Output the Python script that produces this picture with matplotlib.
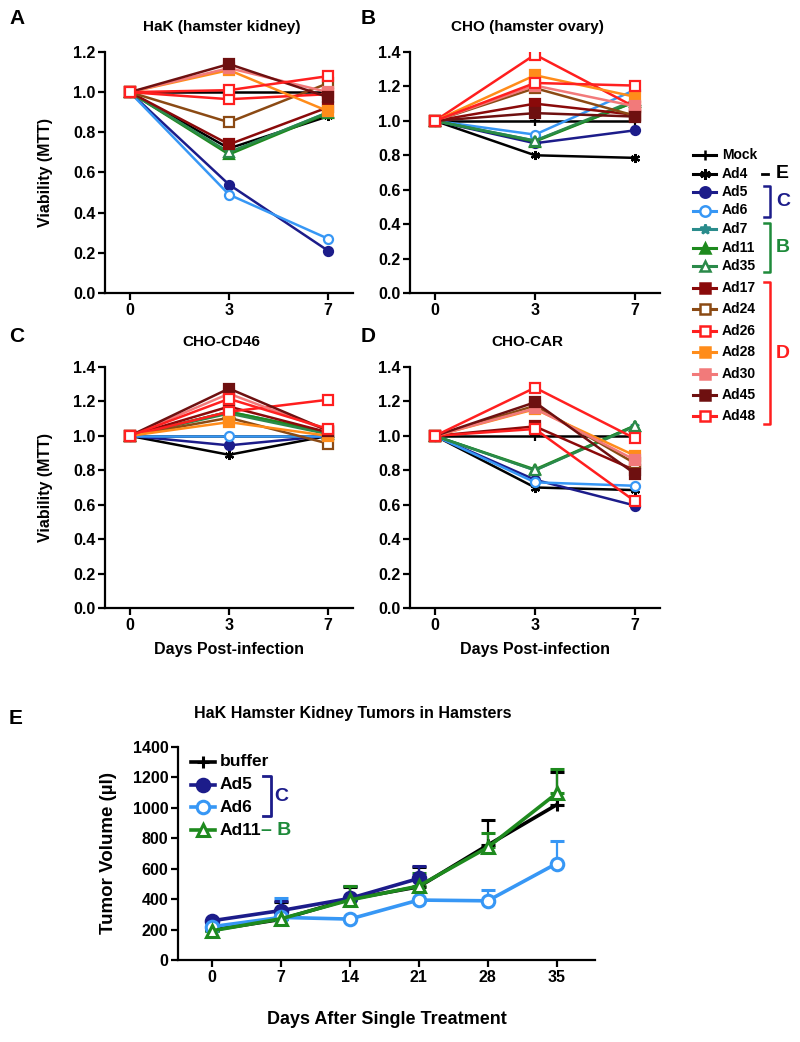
import numpy as np
import matplotlib
matplotlib.use("Agg")
import matplotlib.pyplot as plt

plt.rcParams["font.family"] = ["Liberation Sans", "DejaVu Sans"]
plt.rcParams["font.weight"] = "bold"
plt.rcParams["axes.labelweight"] = "bold"
plt.rcParams["axes.titleweight"] = "bold"

# ---- data: viability panels (days 0, 3, 7) ----
days = ["0", "3", "7"]
viruses = ["Mock", "Ad4", "Ad5", "Ad6", "Ad7", "Ad11", "Ad35",
           "Ad17", "Ad24", "Ad26", "Ad28", "Ad30", "Ad45", "Ad48"]

hak_vals = [
    [1.0, 1.00, 1.00],   # Mock
    [1.0, 0.72, 0.88],   # Ad4
    [1.0, 0.54, 0.21],   # Ad5
    [1.0, 0.49, 0.27],   # Ad6
    [1.0, 0.70, 0.90],   # Ad7
    [1.0, 0.69, 0.895],  # Ad11
    [1.0, 0.70, 0.90],   # Ad35
    [1.0, 0.74, 0.925],  # Ad17
    [1.0, 0.85, 1.045],  # Ad24
    [1.0, 0.965, 0.99],  # Ad26
    [1.0, 1.11, 0.905],  # Ad28
    [1.0, 1.12, 1.00],   # Ad30
    [1.0, 1.14, 0.975],  # Ad45
    [1.0, 1.01, 1.08],   # Ad48
]
cho_vals = [
    [1.0, 1.00, 1.00],
    [1.0, 0.80, 0.785],
    [1.0, 0.87, 0.945],
    [1.0, 0.92, 1.18],
    [1.0, 0.885, 1.11],
    [1.0, 0.88, 1.11],
    [1.0, 0.885, 1.12],
    [1.0, 1.10, 1.035],
    [1.0, 1.19, 1.03],
    [1.0, 1.385, 1.08],
    [1.0, 1.265, 1.14],
    [1.0, 1.205, 1.085],
    [1.0, 1.045, 1.025],
    [1.0, 1.22, 1.205],
]
cd46_vals = [
    [1.0, 1.00, 1.00],
    [1.0, 0.89, 1.00],
    [1.0, 0.945, 1.00],
    [1.0, 1.00, 1.00],
    [1.0, 1.14, 1.02],
    [1.0, 1.14, 1.02],
    [1.0, 1.13, 1.01],
    [1.0, 1.17, 1.02],
    [1.0, 1.105, 0.955],
    [1.0, 1.14, 1.21],
    [1.0, 1.08, 1.00],
    [1.0, 1.245, 1.03],
    [1.0, 1.275, 1.03],
    [1.0, 1.215, 1.04],
]
car_vals = [
    [1.0, 1.00, 1.00],
    [1.0, 0.70, 0.685],
    [1.0, 0.745, 0.595],
    [1.0, 0.73, 0.71],
    [1.0, 0.80, 1.06],
    [1.0, 0.805, 1.06],
    [1.0, 0.80, 1.055],
    [1.0, 1.055, 0.80],
    [1.0, 1.175, 0.84],
    [1.0, 1.04, 0.62],
    [1.0, 1.155, 0.885],
    [1.0, 1.16, 0.86],
    [1.0, 1.195, 0.78],
    [1.0, 1.28, 0.985],
]

# ---- data: tumour volumes ----
tumor_days = [0, 7, 14, 21, 28, 35]
buffer_mean = [197, 267, 400, 481, 755, 1020]
buffer_err = [0, 115, 80, 130, 165, 215]
ad5_days = [0, 7, 14, 21]
ad5_mean = [258, 325, 405, 536]
ad5_err = [0, 60, 80, 85]
ad6_mean = [219, 280, 269, 394, 389, 634]
ad6_err = [0, 130, 0, 0, 70, 150]
ad11_mean = [192, 271, 394, 486, 740, 1095]
ad11_err = [0, 0, 95, 85, 95, 160]

# ---- styles ----
colors = ["black", "black", "#1c1c8a", "#3797f5", "#2a8c8c", "#1e8a1e", "#2b8a4a",
          "#8a0a0a", "#8b4a14", "#ff1e1e", "#ff8c1a", "#f27a7a", "#6e1010", "#ff2020"]
markers = ["+", (6, 2, 0), "o", "o", "*", "^", "^",
           "s", "s", "s", "s", "s", "s", "s"]
faces = ["black", "black", "#1c1c8a", "white", "#2a8c8c", "#1e8a1e", "white",
         "#8a0a0a", "white", "white", "#ff8c1a", "#f27a7a", "#6e1010", "white"]

W, H = 800, 1042
fig = plt.figure(figsize=(8, 10.42), dpi=100)


def box(left, top, right, bottom):
    return [left / W, 1 - bottom / H, (right - left) / W, (bottom - top) / H]


def style_axes(ax, ymax, tick_size):
    for s in ["top", "right"]:
        ax.spines[s].set_visible(False)
    for s in ["left", "bottom"]:
        ax.spines[s].set_linewidth(1.6)
    ax.spines["left"].set_bounds(0, ymax)
    ax.tick_params(width=1.6, length=5, pad=2, labelsize=tick_size)


def viability_panel(rect, vals, ymax, title, letter, letter_xy, ylabel, xlabel):
    ax = fig.add_axes(box(*rect))
    x = np.arange(len(days))
    for i, v in enumerate(viruses):
        ax.plot(x, vals[i], color=colors[i], marker=markers[i], mfc=faces[i],
                mec=colors[i], ms=6.5, mew=1.6, lw=1.8)
    ax.set_xlim(-0.25, 2.25)
    ax.set_ylim(0, ymax)
    ax.set_xticks(x, days)
    yt = np.round(np.arange(0, ymax + 0.01, 0.2), 1)
    ax.set_yticks(yt, [f"{t:.1f}" for t in yt])
    style_axes(ax, ymax, 11.5)
    ax.set_title(title, fontsize=11, pad=15, x=0.47)
    if ylabel:
        ax.set_ylabel("Viability (MTT)", fontsize=11.5, labelpad=14)
    if xlabel:
        ax.set_xlabel("Days Post-infection", fontsize=11.5, labelpad=7)
    fig.text(letter_xy[0] / W, 1 - letter_xy[1] / H, letter, fontsize=15,
             ha="left", va="center")
    return ax


viability_panel((105, 52, 353, 293), hak_vals, 1.2, "HaK (hamster kidney)", "A", (9, 18), True, False)
viability_panel((410, 52, 660, 293), cho_vals, 1.4, "CHO (hamster ovary)", "B", (361, 18), False, False)
viability_panel((105, 367, 353, 608), cd46_vals, 1.4, "CHO-CD46", "C", (9, 337), True, True)
viability_panel((410, 367, 660, 608), car_vals, 1.4, "CHO-CAR", "D", (361, 337), False, True)

# ---- shared legend for A-D ----
lg = fig.add_axes(box(680, 140, 800, 440))
lg.set_xlim(680, 800)
lg.set_ylim(440, 140)
lg.axis("off")
ys = np.concatenate([155 + 18.5 * np.arange(7), 288 + 21.4 * np.arange(7)])
for i, v in enumerate(viruses):
    lg.plot([693, 716], [ys[i], ys[i]], color=colors[i], lw=2.2)
    lg.plot([704.5], [ys[i]], color=colors[i], marker=markers[i], mfc=faces[i],
            mec=colors[i], ms=7.5, mew=1.8)
    lg.text(722, ys[i], v, fontsize=10, va="center", ha="left")


def bracket(ax, y0, y1, x, color, label, lx):
    ax.plot([x - 6, x, x, x - 6], [y0, y0, y1, y1], color=color, lw=1.8)
    ax.text(lx, (y0 + y1) / 2, label, color=color, fontsize=14, va="center", ha="left")


lg.plot([762, 768], [ys[1], ys[1]], color="black", lw=2)
lg.text(776, ys[1], "E", fontsize=14, va="center", ha="left")
bracket(lg, ys[2] - 6, ys[3] + 6, 770, "#1c1c8a", "C", 776)
bracket(lg, ys[4] - 6, ys[6] + 6, 770, "#1e8a3a", "B", 776)
bracket(lg, ys[7] - 6, ys[13] + 8, 770, "#ff1e1e", "D", 776)

# ---- panel E ----
ax = fig.add_axes(box(178, 747, 595, 960))
series = [
    (tumor_days, buffer_mean, buffer_err, "black", "+", "black"),
    (ad5_days, ad5_mean, ad5_err, "#1c1c8a", "o", "#1c1c8a"),
    (tumor_days, ad6_mean, ad6_err, "#3797f5", "o", "white"),
    (tumor_days, ad11_mean, ad11_err, "#1e8a1e", "^", "white"),
]
for d, m, e, c, mk, fc in series:
    ax.errorbar(d, m, yerr=[np.zeros(len(e)), e], color=c, marker=mk, mfc=fc, mec=c,
                ms=9, mew=2.2, lw=2.6, capsize=5, elinewidth=1.6, capthick=1.6)
ax.set_xlim(-3.45, 38.9)
ax.set_ylim(0, 1400)
ax.set_xticks(tumor_days)
ax.set_yticks(np.arange(0, 1401, 200))
style_axes(ax, 1400, 11.5)
ax.set_title("HaK Hamster Kidney Tumors in Hamsters", fontsize=11.5, pad=21, x=0.42)
ax.set_ylabel("Tumor Volume (\u00b5l)", fontsize=13.5, labelpad=11)
ax.set_xlabel("Days After Single Treatment", fontsize=13, labelpad=19)
fig.text(9 / W, 1 - 718 / H, "E", fontsize=15, ha="left", va="center")

labels_e = ["buffer", "Ad5", "Ad6", "Ad11"]
tr = ax.transAxes
for i, (d, m, e, c, mk, fc) in enumerate(series):
    yy = 0.93 - i * 0.107
    ax.plot([0.032, 0.088], [yy, yy], color=c, lw=2.6, transform=tr)
    ax.plot([0.06], [yy], color=c, marker=mk, mfc=fc, mec=c, ms=9, mew=2.2, transform=tr)
    ax.text(0.1, yy, labels_e[i], fontsize=12.5, va="center", ha="left", transform=tr)
y5, y6 = 0.93 - 0.107, 0.93 - 2 * 0.107
ax.plot([0.205, 0.222, 0.222, 0.205], [y5 + 0.04, y5 + 0.04, y6 - 0.04, y6 - 0.04],
        color="#1c1c8a", lw=2, transform=tr)
ax.text(0.232, (y5 + y6) / 2, "C", color="#1c1c8a", fontsize=14, va="center", transform=tr)
ax.text(0.2, 0.93 - 3 * 0.107, "\u2013 B", color="#1e8a3a", fontsize=14, va="center", transform=tr)

fig.savefig("out.png", dpi=100)
